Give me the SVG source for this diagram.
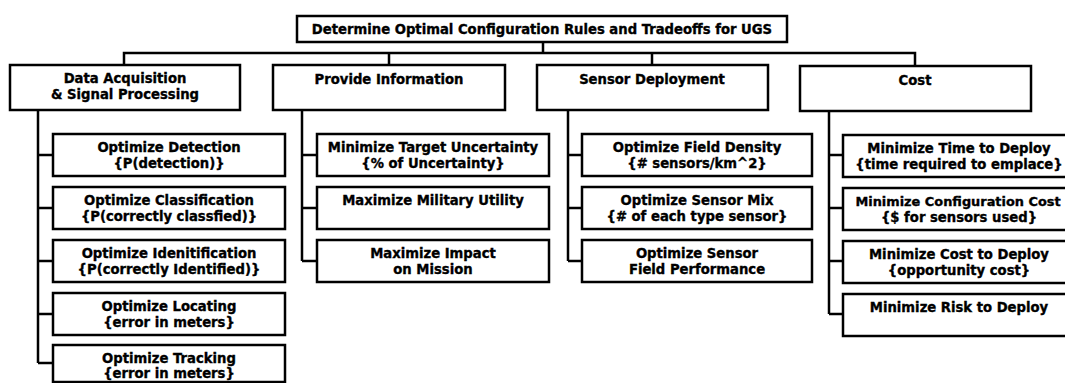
<svg xmlns="http://www.w3.org/2000/svg" width="1065" height="383" viewBox="0 0 1065 383">
  <style>
    .box { fill: #ffffff; stroke: #000000; stroke-width: 2.5; }
    .lbl { font-family: "DejaVu Sans", "Liberation Sans", sans-serif; font-weight: bold; font-size: 13.2px; fill: #000000; stroke: #000000; stroke-width: 0.35; text-anchor: middle; }
    .tight { font-size: 12.9px; }
    .wire { fill: none; stroke: #000000; stroke-width: 2.5; stroke-linejoin: miter; }
  </style>
  <rect width="1065" height="383" fill="#ffffff"/>

  <!-- connectors -->
  <g id="connectors" class="wire">
    <!-- root to level-1 bus -->
    <path d="M543,42 V53 M124,65 V53 H915 V66 M389,53 V65 M652,53 V65"/>
    <!-- Data Acquisition branch -->
    <path d="M38,110 V363 M38,155 H53 M38,208 H53 M38,261 H53 M38,314 H53 M38,363 H53"/>
    <!-- Provide Information branch -->
    <path d="M302,110 V261 M302,155 H317 M302,208 H317 M302,261 H317"/>
    <!-- Sensor Deployment branch -->
    <path d="M568,110 V261 M568,155 H582 M568,208 H582 M568,261 H582"/>
    <!-- Cost branch -->
    <path d="M829,111 V314 M829,155 H843 M829,208 H843 M829,261 H843 M829,314 H843"/>
  </g>

  <!-- root -->
  <g id="root">
    <rect class="box" x="297" y="16" width="490" height="26"/>
    <text class="lbl" x="542" y="33.5">Determine Optimal Configuration Rules and Tradeoffs for UGS</text>
  </g>

  <!-- level 1 -->
  <g id="data-acquisition">
    <rect class="box" x="10" y="65" width="230" height="45"/>
    <text class="lbl" x="125" y="83">Data Acquisition</text>
    <text class="lbl" x="125" y="98.5">&amp; Signal Processing</text>
  </g>
  <g id="provide-information">
    <rect class="box" x="273" y="65" width="232" height="45"/>
    <text class="lbl" x="389" y="84">Provide Information</text>
  </g>
  <g id="sensor-deployment">
    <rect class="box" x="537" y="65" width="231" height="45"/>
    <text class="lbl" x="652" y="84">Sensor Deployment</text>
  </g>
  <g id="cost">
    <rect class="box" x="800" y="66" width="231" height="45"/>
    <text class="lbl" x="915" y="85">Cost</text>
  </g>

  <!-- Data Acquisition children -->
  <g id="opt-detection">
    <rect class="box" x="53" y="134" width="232" height="42"/>
    <text class="lbl" x="169" y="151.5">Optimize Detection</text>
    <text class="lbl" x="169" y="167.5">{P(detection)}</text>
  </g>
  <g id="opt-classification">
    <rect class="box" x="53" y="187" width="232" height="42"/>
    <text class="lbl" x="169" y="204.5">Optimize Classification</text>
    <text class="lbl" x="169" y="220.5">{P(correctly classfied)}</text>
  </g>
  <g id="opt-identification">
    <rect class="box" x="53" y="240" width="232" height="42"/>
    <text class="lbl" x="169" y="257.5">Optimize Idenitification</text>
    <text class="lbl" x="169" y="273.5">{P(correctly Identified)}</text>
  </g>
  <g id="opt-locating">
    <rect class="box" x="53" y="293" width="232" height="42"/>
    <text class="lbl" x="169" y="310.5">Optimize Locating</text>
    <text class="lbl" x="169" y="326.5">{error in meters}</text>
  </g>
  <g id="opt-tracking">
    <rect class="box" x="53" y="345" width="232" height="37"/>
    <text class="lbl" x="169" y="362.5">Optimize Tracking</text>
    <text class="lbl" x="169" y="378">{error in meters}</text>
  </g>

  <!-- Provide Information children -->
  <g id="min-target-uncertainty">
    <rect class="box" x="317" y="134" width="232" height="42"/>
    <text class="lbl" x="433" y="151.5">Minimize Target Uncertainty</text>
    <text class="lbl" x="433" y="167.5">{% of Uncertainty}</text>
  </g>
  <g id="max-military-utility">
    <rect class="box" x="317" y="187" width="232" height="42"/>
    <text class="lbl" x="433" y="204.5">Maximize Military Utility</text>
  </g>
  <g id="max-impact">
    <rect class="box" x="317" y="240" width="232" height="42"/>
    <text class="lbl" x="433" y="257.5">Maximize Impact</text>
    <text class="lbl" x="433" y="273.5">on Mission</text>
  </g>

  <!-- Sensor Deployment children -->
  <g id="opt-field-density">
    <rect class="box" x="582" y="134" width="230" height="42"/>
    <text class="lbl" x="697" y="151.5">Optimize Field Density</text>
    <text class="lbl" x="697" y="167.5">{# sensors/km^2}</text>
  </g>
  <g id="opt-sensor-mix">
    <rect class="box" x="582" y="187" width="230" height="42"/>
    <text class="lbl" x="697" y="204.5">Optimize Sensor Mix</text>
    <text class="lbl" x="697" y="220.5">{# of each type sensor}</text>
  </g>
  <g id="opt-field-performance">
    <rect class="box" x="582" y="240" width="230" height="42"/>
    <text class="lbl" x="697" y="257.5">Optimize Sensor</text>
    <text class="lbl" x="697" y="273.5">Field Performance</text>
  </g>

  <!-- Cost children (boxes run past the right edge) -->
  <g id="min-time-deploy">
    <rect class="box" x="843" y="135" width="240" height="42"/>
    <text class="lbl" x="959" y="152.5">Minimize Time to Deploy</text>
    <text class="lbl" x="959" y="168.5">{time required to emplace}</text>
  </g>
  <g id="min-config-cost">
    <rect class="box" x="843" y="188" width="240" height="42"/>
    <text class="lbl tight" x="958" y="205.5">Minimize Configuration Cost</text>
    <text class="lbl" x="959" y="221.5">{$ for sensors used}</text>
  </g>
  <g id="min-cost-deploy">
    <rect class="box" x="843" y="241" width="240" height="42"/>
    <text class="lbl" x="959" y="258.5">Minimize Cost to Deploy</text>
    <text class="lbl" x="959" y="274.5">{opportunity cost}</text>
  </g>
  <g id="min-risk-deploy">
    <rect class="box" x="843" y="294" width="240" height="42"/>
    <text class="lbl" x="959" y="311.5">Minimize Risk to Deploy</text>
  </g>
</svg>
